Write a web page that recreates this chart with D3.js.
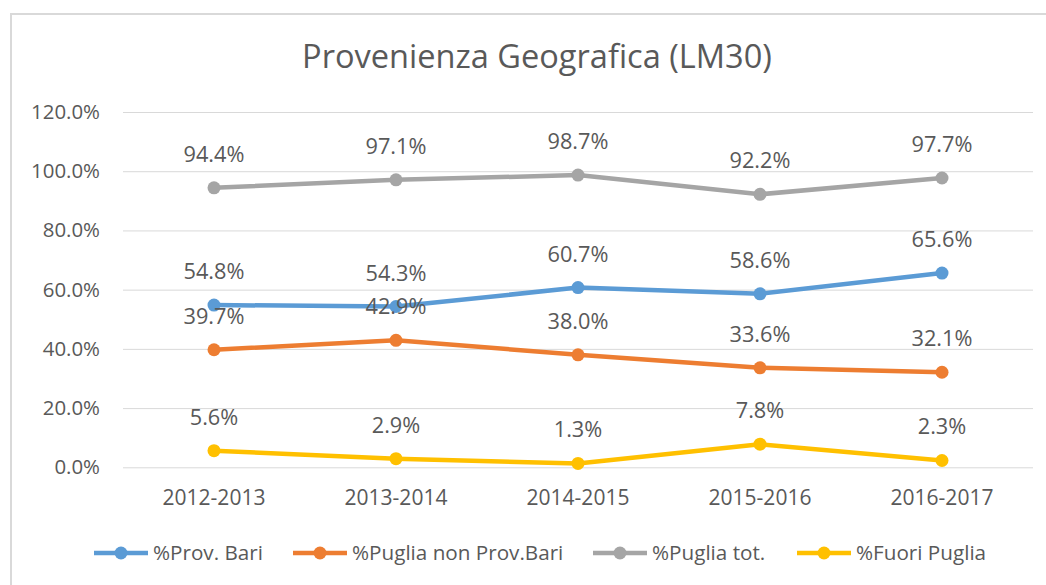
<!DOCTYPE html>
<html>
<head>
<meta charset="utf-8">
<script src="https://cdn.jsdelivr.net/npm/d3@7"></script>
<style>
  html, body { margin: 0; padding: 0; background: #fff; }
  svg { display: block; }
  text { font-family: "Open Sans", "Noto Sans", sans-serif; fill: #595959; }
</style>
</head>
<body>
<svg id="chart" width="1046" height="585"></svg>
<script>
const title = "Provenienza Geografica (LM30)";
const categories = ["2012-2013", "2013-2014", "2014-2015", "2015-2016", "2016-2017"];
const seriesNames = ["%Prov. Bari", "%Puglia non Prov.Bari", "%Puglia tot.", "%Fuori Puglia"];
const provBari = [54.8, 54.3, 60.7, 58.6, 65.6];
const pugliaNonBari = [39.7, 42.9, 38.0, 33.6, 32.1];
const pugliaTot = [94.4, 97.1, 98.7, 92.2, 97.7];
const fuoriPuglia = [5.6, 2.9, 1.3, 7.8, 2.3];
const yTicks = [0, 20, 40, 60, 80, 100, 120];
const colors = ["#5B9BD5", "#ED7D31", "#A5A5A5", "#FFC000"];

const seriesValues = [provBari, pugliaNonBari, pugliaTot, fuoriPuglia];
const series = seriesNames.map((name, i) => ({
  name, color: colors[i],
  values: categories.map((c, j) => ({ cat: c, v: seriesValues[i][j] }))
}));

const svg = d3.select("#chart");

// helper: font size so that text reaches a target width
function fitSize(str, targetW) {
  const t = svg.append("text").attr("font-size", 100).text(str);
  const w = t.node().getComputedTextLength();
  t.remove();
  return 100 * targetW / w;
}

const plot = { left: 123, right: 1033, top: 112, bottom: 467.3 };

const x = d3.scaleBand().domain(categories).range([plot.left, plot.right]);
const y = d3.scaleLinear().domain([0, 120]).range([plot.bottom, plot.top]);
const cx = c => x(c) + x.bandwidth() / 2;

// chart border (top and left)
svg.append("path")
  .attr("d", "M11,586 L11,14 L1046,14")
  .attr("fill", "none").attr("stroke", "#d9d9d9").attr("stroke-width", 2);

// title
const titleSize = fitSize(title, 470);
svg.append("text")
  .attr("x", 537).attr("y", 68)
  .attr("text-anchor", "middle")
  .attr("font-size", titleSize)
  .text(title);

// gridlines
const yAxis = d3.axisLeft(y).tickValues(yTicks)
  .tickSize(-(plot.right - plot.left)).tickPadding(23)
  .tickFormat(d => d3.format(".1f")(d) + "%");
const yG = svg.append("g").attr("transform", `translate(${plot.left},0)`).call(yAxis);
yG.select(".domain").remove();
yG.selectAll(".tick line").attr("stroke", "#d9d9d9").attr("stroke-width", 1);
const tickSize = fitSize("120.0%", 69);
yG.selectAll(".tick text")
  .attr("font-size", tickSize)
  .attr("font-family", null)
  .attr("fill", "#595959");

// x axis labels
const xAxis = d3.axisBottom(x).tickSize(0).tickPadding(0);
const xG = svg.append("g").attr("transform", `translate(0,${plot.bottom})`).call(xAxis);
xG.select(".domain").remove();
const xSize = fitSize("2016-2017", 103);
xG.selectAll(".tick text")
  .attr("font-size", xSize)
  .attr("font-family", null)
  .attr("fill", "#595959")
  .attr("dy", null)
  .attr("y", 38);

// lines
const line = d3.line().x(d => cx(d.cat)).y(d => y(d.v));
const sG = svg.append("g");
series.forEach(s => {
  const g = sG.append("g");
  g.append("path").datum(s.values)
    .attr("d", line).attr("fill", "none")
    .attr("stroke", s.color).attr("stroke-width", 4.5)
    .attr("stroke-linejoin", "round").attr("stroke-linecap", "round");
  g.selectAll("circle").data(s.values).join("circle")
    .attr("cx", d => cx(d.cat)).attr("cy", d => y(d.v))
    .attr("r", 6.5).attr("fill", s.color);
});

// data labels
const lblSize = fitSize("97.7%", 61);
const lG = svg.append("g");
series.forEach(s => {
  lG.selectAll(null).data(s.values).join("text")
    .attr("x", d => cx(d.cat)).attr("y", d => y(d.v) - 26)
    .attr("text-anchor", "middle")
    .attr("font-size", lblSize)
    .text(d => d3.format(".1f")(d.v) + "%");
});

// legend
const legSize = fitSize("%Prov. Bari", 110);
const legX = [94, 293, 593, 797];
const legY = 553;
const leg = svg.append("g");
series.forEach((s, i) => {
  const g = leg.append("g").attr("transform", `translate(${legX[i]},${legY})`);
  g.append("line").attr("x1", 0).attr("x2", 54).attr("y1", 0).attr("y2", 0)
    .attr("stroke", s.color).attr("stroke-width", 4.5);
  g.append("circle").attr("cx", 27).attr("cy", 0).attr("r", 6.5).attr("fill", s.color);
  g.append("text").attr("x", 59).attr("y", 0).attr("dy", "0.35em")
    .attr("font-size", legSize).text(s.name);
});
</script>
</body>
</html>
